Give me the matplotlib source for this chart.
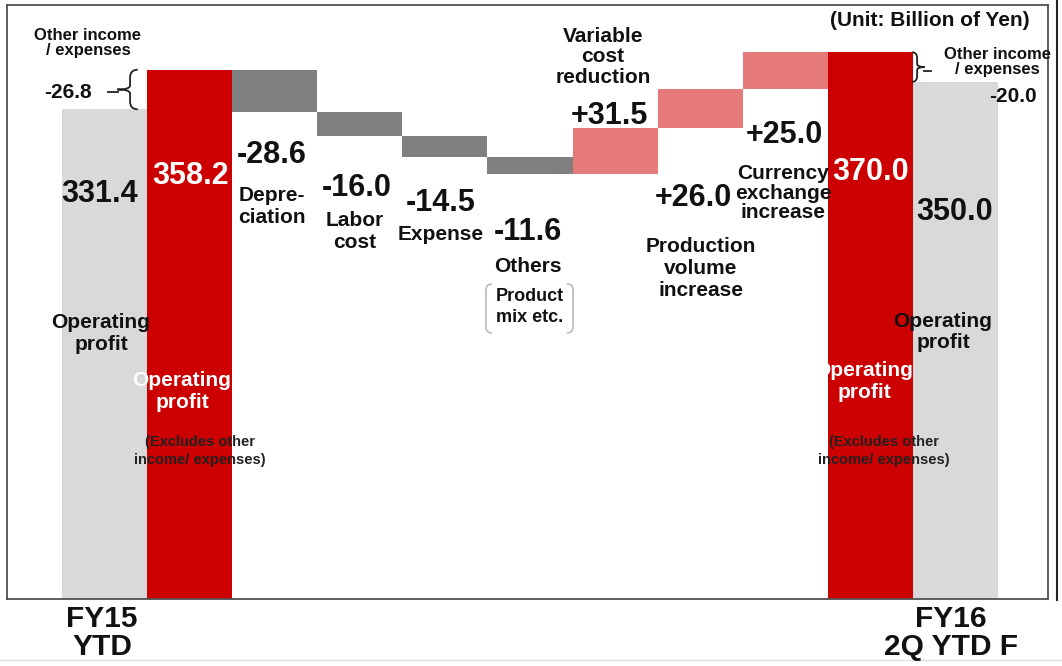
import matplotlib
matplotlib.use("Agg")
import matplotlib.pyplot as plt
from matplotlib.path import Path
from matplotlib.patches import PathPatch
from matplotlib.lines import Line2D

plt.rcParams["font.family"] = ["Liberation Sans", "DejaVu Sans"]
plt.rcParams["font.weight"] = "bold"

# Data (Billion of Yen)
start_total = 331.4      # FY15 YTD operating profit
start_other = -26.8      # other income / expenses
start_op = 358.2         # operating profit excl. other income
step_values = [-28.6, -16.0, -14.5, -11.6, 31.5, 26.0, 25.0]
end_op = 370.0
end_other = -20.0
end_total = 350.0

RED = "#CC0000"
LIGHT = "#D9D9D9"
DARK = "#808080"
PINK = "#E67A7A"

W, H = 1062, 666
fig = plt.figure(figsize=(W / 100, H / 100), dpi=100)
ax = fig.add_axes([7 / W, 1 - 599 / H, 1041 / W, 594 / H])


def px(x, y):
    return x / W, 1 - y / H


# Bars
ax.bar(0, start_total, width=1, color=LIGHT, clip_on=False)
ax.bar(1, start_op, width=1, color=RED, clip_on=False)
level = start_op
for i, v in enumerate(step_values):
    bottom = level + v if v < 0 else level
    ax.bar(2 + i, abs(v), bottom=bottom, width=1, color=DARK if v < 0 else PINK)
    level += v
ax.bar(9, end_op, width=1, color=RED, clip_on=False)
ax.bar(10, end_total, width=1, color=LIGHT, clip_on=False)

ax.set_xlim(-1.146, 11.088)
ax.set_ylim(0, 402)
ax.set_xticks([])
ax.set_yticks([])
for s in ax.spines.values():
    s.set_color("#505050")
    s.set_linewidth(1.3)


def brace(xs, xe, xt, y0, y1):
    # curly brace: spine at xs, ends at xe, tip at xt
    h = y1 - y0
    ym = (y0 + y1) / 2
    verts = [(xe, y1), (xs, y1), (xs, y1 - h * 0.2),
             (xs, ym + h * 0.1), (xs, ym), (xt, ym),
             (xs, ym), (xs, ym - h * 0.1),
             (xs, y0 + h * 0.2), (xs, y0), (xe, y0)]
    codes = [Path.MOVETO, Path.CURVE3, Path.CURVE3,
             Path.LINETO, Path.CURVE3, Path.CURVE3,
             Path.CURVE3, Path.CURVE3,
             Path.LINETO, Path.CURVE3, Path.CURVE3]
    ax.add_patch(PathPatch(Path(verts, codes), fill=False, lw=1.3,
                           color="#222222", clip_on=False))


brace(0.30, 0.39, 0.15, start_total, start_op)
brace(9.55, 9.49, 9.64, end_total, end_op)


# Text
def t(x, y, s, size=15, color="#111111", **kw):
    fig.text(*px(x, y), s, fontsize=size, color=color, ha=kw.pop("ha", "center"),
             va=kw.pop("va", "center"), weight="bold",
             linespacing=kw.pop("linespacing", 1.2), **kw)


t(88, 43, "Other income\n/ expenses", 12, linespacing=0.95)
t(68, 92, f"{start_other:.1f}", 15)
t(191, 176, f"{start_op:.1f}", 22, "white")
t(100, 194, f"{start_total:.1f}", 22)
t(101, 334, "Operating\nprofit", 15)
t(182, 392, "Operating\nprofit", 15, "white")
t(200, 451, "(Excludes other\nincome/ expenses)", 10.5, "#222222", linespacing=1.45)

labels = ["Depre-\nciation", "Labor\ncost", "Expense", "Others"]
num_pos = [(272, 155), (357, 188), (441, 203), (528, 232)]
lab_pos = [(272, 207), (355, 232), (441, 235), (528, 266)]
for v, (nx, ny), lab, (lx, ly) in zip(step_values[:4], num_pos, labels, lab_pos):
    t(nx, ny, f"{v:.1f}", 22)
    t(lx, ly, lab, 15)

t(530, 307, "Product\nmix etc.", 13, linespacing=1.3)
# rounded side brackets around "Product mix etc."
for xb, d in [(486, 1), (573, -1)]:
    r = 6
    verts = [px(xb + d * r, 284), px(xb, 284), px(xb, 284 + r),
             px(xb, 333 - r), px(xb, 333), px(xb + d * r, 333)]
    codes = [Path.MOVETO, Path.CURVE3, Path.CURVE3, Path.LINETO, Path.CURVE3, Path.CURVE3]
    fig.add_artist(PathPatch(Path(verts, codes), fill=False, lw=1.2, ec="#BBBBBB",
                             transform=fig.transFigure))

t(603, 57, "Variable\ncost\nreduction", 15, linespacing=1.08)
t(609, 116, f"+{step_values[4]:.1f}", 22)
t(693, 198, f"+{step_values[5]:.1f}", 22)
t(701, 268, "Production\nvolume\nincrease", 15)
t(784, 135, f"+{step_values[6]:.1f}", 22)
t(783, 193, "Currency\nexchange\nincrease", 15, linespacing=1.05)

t(871, 172, f"{end_op:.1f}", 22, "white")
t(955, 212, f"{end_total:.1f}", 22)
t(943, 332, "Operating\nprofit", 15, linespacing=1.1)
t(864, 382, "Operating\nprofit", 15, "white")
t(884, 451, "(Excludes other\nincome/ expenses)", 10.5, "#222222", linespacing=1.45)

t(930, 21, "(Unit: Billion of Yen)", 15)
t(997, 62, "Other income\n/ expenses", 12, linespacing=0.95)
t(1013, 97, f"{end_other:.1f}", 15)

t(102, 633, "FY15\nYTD", 21.5, linespacing=1.03)
t(951, 633, "FY16\n2Q YTD F", 21.5, linespacing=1.03)

# connector dashes to braces and outer frame lines
fig.add_artist(Line2D([108 / W, 118 / W], [1 - 92 / H] * 2, color="#222222", lw=1.3))
fig.add_artist(Line2D([924 / W, 931 / W], [1 - 71 / H] * 2, color="#222222", lw=1.3))
fig.add_artist(Line2D([1057 / W] * 2, [1 - 600 / H, 1], color="#222222", lw=1.5))
fig.add_artist(Line2D([0, 1], [1 - 660 / H] * 2, color="#DDDDDD", lw=1))

fig.savefig("out.png", dpi=100)
